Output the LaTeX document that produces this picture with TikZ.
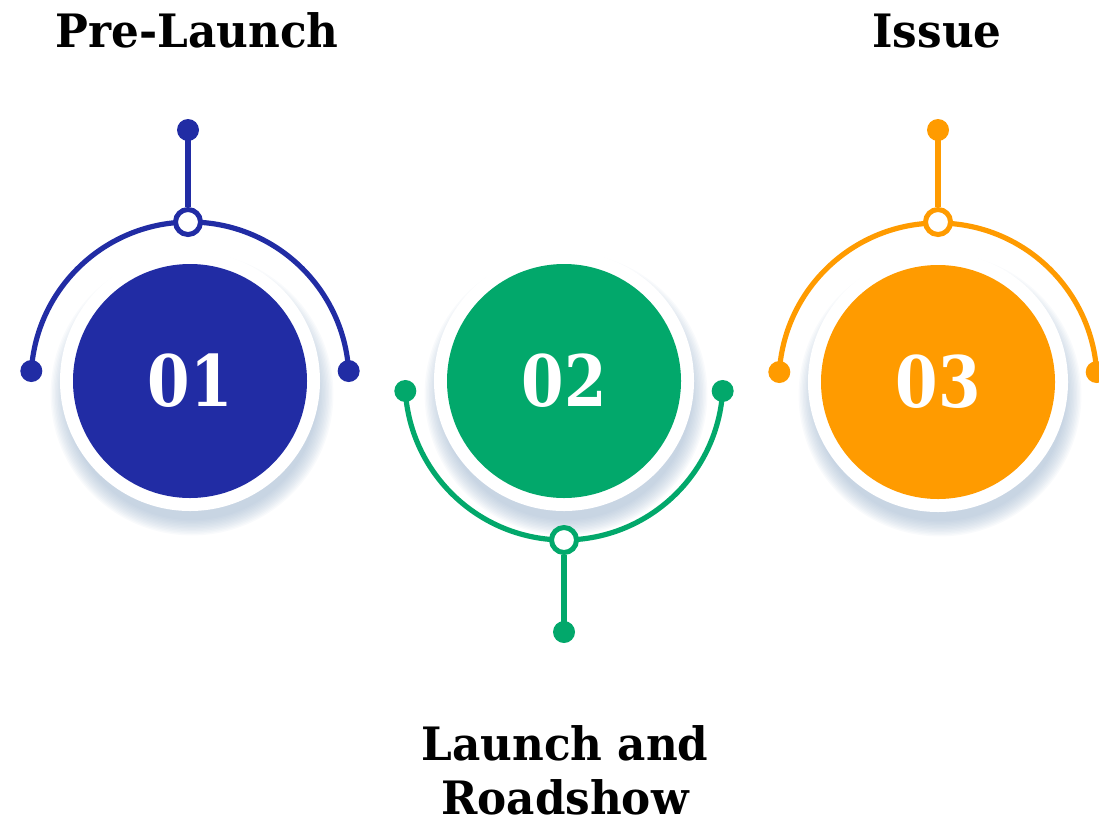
\documentclass[tikz,border=0pt]{standalone}
\usepackage{fontspec}
\usepackage{graphicx}
\setmainfont{DejaVu Serif}
\definecolor{cblue}{HTML}{212CA4}
\definecolor{cgreen}{HTML}{02A86B}
\definecolor{corange}{HTML}{FF9B00}
\definecolor{shadowc}{HTML}{8FA9C6}
\newcommand{\numtxt}[1]{\scalebox{0.86}[1]{#1}}
\newcommand{\ttltxt}[1]{\scalebox{0.95}[1]{#1}}
\tikzset{
  disc/.style={circle, fill=#1, inner sep=0pt, minimum size=234pt, text=white,
    font=\fontsize{71}{71}\selectfont\bfseries},
  ring/.style={circle, fill=white, inner sep=0pt, minimum size=260pt},
  enddot/.style={circle, fill=#1, inner sep=0pt, minimum size=22pt},
  hub/.style={circle, draw=#1, fill=white, line width=5pt, inner sep=0pt, minimum size=25pt},
  link/.style={draw=#1, line width=5.2pt},
  title/.style={font=\fontsize{46}{54}\selectfont\bfseries, align=center, text=black, inner sep=0pt}
}
\begin{document}
\begin{tikzpicture}[x=1pt,y=1pt]
\useasboundingbox (0,-830) rectangle (1099,0);
\clip (0,-830) rectangle (1099,0);
% shadows
\foreach \cx/\cy in {190/-381, 564/-381, 938/-382}{
  \foreach \k in {0,...,11}{
    \fill[shadowc, opacity=0.055] (\cx+2,\cy-13) circle ({126+1.4*\k});
  }
}
% ===== Stage 1 =====
\coordinate (c1) at (190,-381);
\draw[link=cblue] (c1) ++(176.4:159) coordinate (l1) arc[start angle=176.4, end angle=3.6, radius=159] coordinate (r1);
\node[ring] (w1) at (c1) {};
\node[disc=cblue] (d1) at (c1) {\numtxt{01}};
\node[enddot=cblue] (ld1) at (l1) {};
\node[enddot=cblue] (rd1) at (r1) {};
\node[enddot=cblue] (td1) at (188,-130) {};
\node[hub=cblue] (h1) at (188,-222) {};
\draw[link=cblue] (h1) -- (td1.center);
\node[title, anchor=base] (t1) at (197,-47) {\ttltxt{Pre-Launch}};
% ===== Stage 2 =====
\coordinate (c2) at (564,-381);
\draw[link=cgreen] (c2) ++(183.6:159) coordinate (l2) arc[start angle=183.6, end angle=356.4, radius=159] coordinate (r2);
\node[ring] (w2) at (c2) {};
\node[disc=cgreen] (d2) at (c2) {\numtxt{02}};
\node[enddot=cgreen] (ld2) at (l2) {};
\node[enddot=cgreen] (rd2) at (r2) {};
\node[enddot=cgreen] (bd2) at (564,-632) {};
\node[hub=cgreen] (h2) at (564,-540) {};
\draw[link=cgreen] (h2) -- (bd2.center);
\node[title, anchor=south] (t2) at (565,-815) {\ttltxt{Launch and}\\\ttltxt{Roadshow}};
% ===== Stage 3 =====
\coordinate (c3) at (938,-382);
\draw[link=corange] (c3) ++(176.4:159) coordinate (l3) arc[start angle=176.4, end angle=3.6, radius=159] coordinate (r3);
\node[ring] (w3) at (c3) {};
\node[disc=corange] (d3) at (c3) {\numtxt{03}};
\node[enddot=corange] (ld3) at (l3) {};
\node[enddot=corange] (rd3) at (r3) {};
\node[enddot=corange] (td3) at (938,-130) {};
\node[hub=corange] (h3) at (938,-222) {};
\draw[link=corange] (h3) -- (td3.center);
\node[title, anchor=base] (t3) at (937,-47) {\ttltxt{Issue}};
\end{tikzpicture}
\end{document}
